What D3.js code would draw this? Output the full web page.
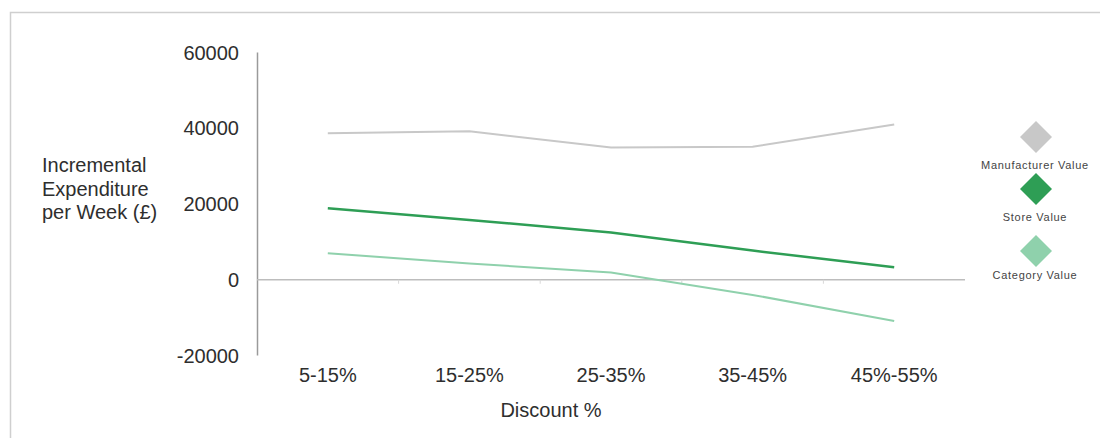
<!DOCTYPE html>
<html>
<head>
<meta charset="utf-8">
<script src="https://cdn.jsdelivr.net/npm/d3@7/dist/d3.min.js"></script>
<style>
  body { margin: 0; background: #fff; }
  svg text { font-family: "Liberation Sans", Arial, sans-serif; fill: #2e2e2e; }
</style>
</head>
<body>
<div id="chart"></div>
<script>
var categories = ['5-15%', '15-25%', '25-35%', '35-45%', '45%-55%'];
var manufacturerValue = [38700, 39200, 34900, 35100, 41000];
var storeValue = [18900, 15800, 12500, 7700, 3300];
var categoryValue = [7000, 4300, 1900, -4000, -10900];
var yTicks = [-20000, 0, 20000, 40000, 60000];

var seriesNames = ['Manufacturer Value', 'Store Value', 'Category Value'];
var seriesColors = ['#c8c8c8', '#2e9e55', '#8fd1ac'];
var seriesWidths = [2, 2.5, 2];

var series = [manufacturerValue, storeValue, categoryValue].map(function(v, i) {
  return { name: seriesNames[i], color: seriesColors[i], width: seriesWidths[i], values: v };
});

var svg = d3.select('#chart').append('svg')
  .attr('width', 1100)
  .attr('height', 438);

// frame
svg.append('path')
  .attr('d', 'M10.5,438 L10.5,12.5 L1100,12.5')
  .attr('fill', 'none')
  .attr('stroke', '#cfcfcf')
  .attr('stroke-width', 1.5);

var x = d3.scaleBand().domain(categories).range([257, 965]);
var y = d3.scaleLinear().domain([-20000, 60000]).range([355.5, 52.5]);

// y axis line
svg.append('line')
  .attr('x1', 257.5).attr('x2', 257.5)
  .attr('y1', y(60000)).attr('y2', y(-20000))
  .attr('stroke', '#9a9a9a').attr('stroke-width', 1.5);

// zero line with category boundary ticks
svg.append('line')
  .attr('x1', 257).attr('x2', 965)
  .attr('y1', y(0)).attr('y2', y(0))
  .attr('stroke', '#bdbdbd').attr('stroke-width', 1.5);

svg.selectAll('line.xtick').data(categories.slice(1))
  .enter().append('line')
  .attr('class', 'xtick')
  .attr('x1', function(d) { return x(d); })
  .attr('x2', function(d) { return x(d); })
  .attr('y1', y(0)).attr('y2', y(0) + 4)
  .attr('stroke', '#d8d8d8');

// y tick labels
svg.selectAll('text.ytick').data(yTicks)
  .enter().append('text')
  .attr('class', 'ytick')
  .attr('x', 239)
  .attr('y', function(d) { return y(d); })
  .attr('dy', '0.35em')
  .attr('text-anchor', 'end')
  .style('font-size', '20px')
  .text(function(d) { return d; });

// x tick labels
svg.selectAll('text.xlabel').data(categories)
  .enter().append('text')
  .attr('class', 'xlabel')
  .attr('x', function(d) { return x(d) + x.bandwidth() / 2; })
  .attr('y', 375)
  .attr('dy', '0.35em')
  .attr('text-anchor', 'middle')
  .style('font-size', '20px')
  .text(function(d) { return d; });

// axis titles
svg.append('text')
  .attr('x', 551).attr('y', 410).attr('dy', '0.35em')
  .attr('text-anchor', 'middle')
  .style('font-size', '20px')
  .text('Discount %');

var yTitle = ['Incremental', 'Expenditure', 'per Week (£)'];
svg.selectAll('text.ytitle').data(yTitle)
  .enter().append('text')
  .attr('class', 'ytitle')
  .attr('x', 42)
  .attr('y', function(d, i) { return 165 + i * 23.5; })
  .attr('dy', '0.35em')
  .style('font-size', '20px')
  .text(function(d) { return d; });

// lines
var line = d3.line()
  .x(function(d, i) { return x(categories[i]) + x.bandwidth() / 2; })
  .y(function(d) { return y(d); });

svg.selectAll('path.series').data(series)
  .enter().append('path')
  .attr('class', 'series')
  .attr('d', function(d) { return line(d.values); })
  .attr('fill', 'none')
  .attr('stroke', function(d) { return d.color; })
  .attr('stroke-width', function(d) { return d.width; });

// legend
var legendY = [137, 189, 251];
var legendLabelY = [165, 217, 275];
var legend = svg.selectAll('g.legend').data(series)
  .enter().append('g')
  .attr('class', 'legend');

legend.append('path')
  .attr('transform', function(d, i) { return 'translate(1036,' + legendY[i] + ')'; })
  .attr('d', 'M0,-16 L16,0 L0,16 L-16,0 Z')
  .attr('fill', function(d) { return d.color; });

legend.append('text')
  .attr('x', 1035)
  .attr('y', function(d, i) { return legendLabelY[i]; })
  .attr('dy', '0.35em')
  .attr('text-anchor', 'middle')
  .style('font-size', '11px')
  .style('letter-spacing', '0.7px')
  .style('fill', '#444')
  .text(function(d) { return d.name; });
</script>
</body>
</html>
